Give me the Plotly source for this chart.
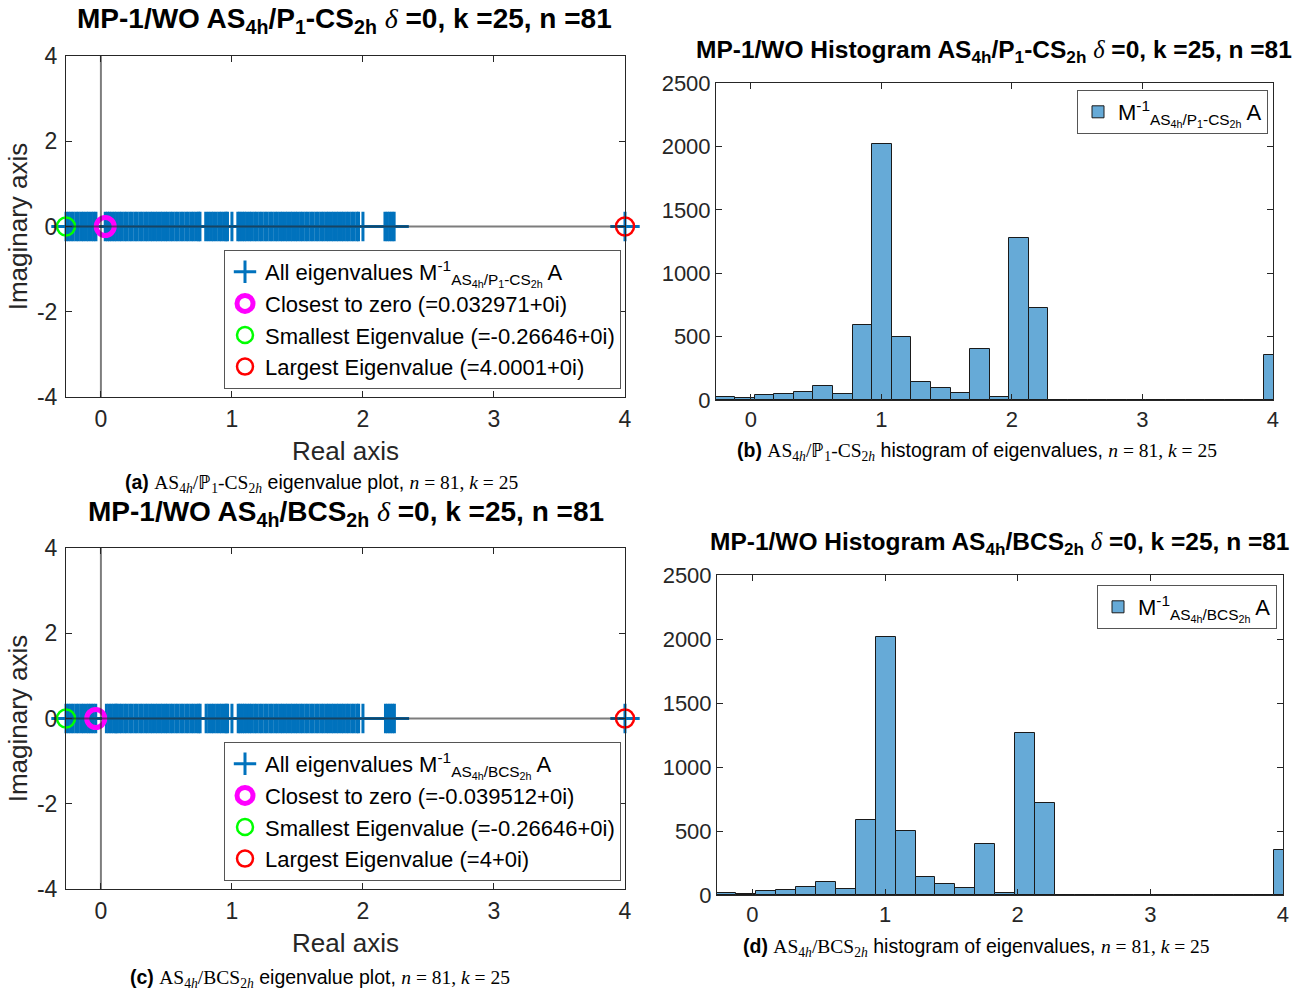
import plotly.graph_objects as go

W, H = 1306, 991

# ------------------------------------------------------------------ data
# (a) AS4h/P1-CS2h : real parts of the eigenvalues of M^-1 A (imag parts are 0)
eig_a_real = [
    -0.26646, -0.248, -0.229, -0.211, -0.190, -0.172, -0.151, -0.133, -0.112,
    -0.094, -0.073, -0.055, -0.038, 0.032971, 0.050, 0.066, 0.084, 0.103,
    0.121, 0.142, 0.160, 0.181, 0.199, 0.220, 0.238, 0.259, 0.277, 0.298,
    0.316, 0.337, 0.355, 0.376, 0.394, 0.415, 0.433, 0.454, 0.472, 0.493,
    0.511, 0.532, 0.550, 0.571, 0.589, 0.610, 0.628, 0.649, 0.667, 0.688,
    0.706, 0.727, 0.745, 0.756,
    0.800, 0.821, 0.842, 0.860, 0.881, 0.902, 0.920, 0.941, 0.955, 0.966,
    1.0,
    1.045, 1.060, 1.078, 1.095, 1.113, 1.134, 1.152, 1.173, 1.191, 1.212,
    1.230, 1.251, 1.269, 1.290, 1.308, 1.329, 1.347, 1.368, 1.386, 1.407,
    1.425, 1.446, 1.464, 1.485, 1.503, 1.524, 1.542, 1.563, 1.581, 1.602,
    1.620, 1.641, 1.659, 1.680, 1.698, 1.719, 1.737, 1.758, 1.776, 1.797,
    1.815, 1.836, 1.854, 1.875, 1.893, 1.914, 1.932, 1.953, 1.966,
    2.0,
    2.168, 2.186, 2.204, 2.222, 2.238,
    4.0001,
]
eig_a_imag = [0.0] * len(eig_a_real)

# (c) AS4h/BCS2h
eig_c_real = [
    -0.26646, -0.248, -0.229, -0.211, -0.190, -0.172, -0.151, -0.133, -0.112,
    -0.094, -0.076, -0.058, -0.039512, 0.042, 0.061, 0.079, 0.097, 0.115,
    0.121, 0.142, 0.160, 0.181, 0.199, 0.220, 0.238, 0.259, 0.277, 0.298,
    0.316, 0.337, 0.355, 0.376, 0.394, 0.415, 0.433, 0.454, 0.472, 0.493,
    0.511, 0.532, 0.550, 0.571, 0.589, 0.610, 0.628, 0.649, 0.667, 0.688,
    0.706, 0.727, 0.745, 0.757,
    0.803, 0.823, 0.844, 0.862, 0.883, 0.903, 0.921, 0.942, 0.956, 0.967,
    1.0,
    1.048, 1.062, 1.080, 1.097, 1.115, 1.134, 1.152, 1.173, 1.191, 1.212,
    1.230, 1.251, 1.269, 1.290, 1.308, 1.329, 1.347, 1.368, 1.386, 1.407,
    1.425, 1.446, 1.464, 1.485, 1.503, 1.524, 1.542, 1.563, 1.581, 1.602,
    1.620, 1.641, 1.659, 1.680, 1.698, 1.719, 1.737, 1.758, 1.776, 1.797,
    1.815, 1.836, 1.854, 1.875, 1.893, 1.914, 1.932, 1.953, 1.967,
    2.0,
    2.172, 2.190, 2.207, 2.224, 2.240,
    4.0,
]
eig_c_imag = [0.0] * len(eig_c_real)

closest_a, smallest_a, largest_a = 0.032971, -0.26646, 4.0001
closest_c, smallest_c, largest_c = -0.039512, -0.26646, 4.0

# histograms (bin width 0.15 starting at -0.27)
hist_bin_start = -0.27
hist_bin_width = 0.15
hist_counts_b = [25, 13, 37, 45, 63, 110, 47, 592, 2020, 500, 142, 97, 55, 403,
                 24, 1275, 722, 0, 0, 0, 0, 0, 0, 0, 0, 0, 0, 0, 357]
hist_counts_d = [16, 10, 31, 39, 62, 101, 47, 588, 2015, 497, 140, 86, 52, 396,
                 16, 1268, 720, 0, 0, 0, 0, 0, 0, 0, 0, 0, 0, 0, 352]

eig_xticks = [0, 1, 2, 3, 4]
eig_yticks = [-4, -2, 0, 2, 4]
eig_yticktext = ["-4", "-2", "0", "2", "4"]
hist_yticks = [0, 500, 1000, 1500, 2000, 2500]

# ------------------------------------------------------------------ styles
SANS = "Liberation Sans"
SERIF = "Liberation Serif"
AX = "#262626"
BLUE = "#0072BD"
HISTC = "#66AAD7"


def px(x):
    return x / W


def py(y):
    return 1 - y / H


delta = f'<span style="font-family:{SERIF};font-weight:normal"><i>δ</i></span>'
op_a = "AS<sub>4h</sub>/P<sub>1</sub>-CS<sub>2h</sub>"
op_c = "AS<sub>4h</sub>/BCS<sub>2h</sub>"

fig = go.Figure()


def eig_panel(xa, ya, leg, re, im, closest, smallest, largest, op):
    fig.add_trace(go.Scatter(
        x=re, y=im, mode="markers", xaxis=xa, yaxis=ya, legend=leg,
        name=f"All eigenvalues M<sup>-1</sup><sub>{op}</sub> A",
        marker=dict(symbol="cross-thin", size=21, color=BLUE,
                    line=dict(color=BLUE, width=3)),
        cliponaxis=False))
    fig.add_trace(go.Scatter(
        x=[closest], y=[0], mode="markers", xaxis=xa, yaxis=ya, legend=leg,
        name=f"Closest to zero (={closest:g}+0i)",
        marker=dict(symbol="circle-open", size=18, color="#FF00FF",
                    line=dict(color="#FF00FF", width=5)),
        cliponaxis=False))
    fig.add_trace(go.Scatter(
        x=[smallest], y=[0], mode="markers", xaxis=xa, yaxis=ya, legend=leg,
        name=f"Smallest Eigenvalue (={smallest:g}+0i)",
        marker=dict(symbol="circle-open", size=18, color="#00FF00",
                    line=dict(color="#00FF00", width=2.5)),
        cliponaxis=False))
    fig.add_trace(go.Scatter(
        x=[largest], y=[0], mode="markers", xaxis=xa, yaxis=ya, legend=leg,
        name=f"Largest Eigenvalue (={largest:g}+0i)",
        marker=dict(symbol="circle-open", size=18, color="#FF0000",
                    line=dict(color="#FF0000", width=2.5)),
        cliponaxis=False))


def hist_panel(xa, ya, leg, counts, op):
    centers = [hist_bin_start + hist_bin_width * (i + 0.5) for i in range(len(counts))]
    fig.add_trace(go.Bar(
        x=centers, y=counts, width=hist_bin_width, xaxis=xa, yaxis=ya, legend=leg,
        name=f"M<sup>-1</sup><sub>{op}</sub> A",
        marker=dict(color=HISTC, line=dict(color="#1a1a1a", width=1))))


eig_panel("x", "y", "legend", eig_a_real, eig_a_imag, closest_a, smallest_a, largest_a, op_a)
hist_panel("x2", "y2", "legend2", hist_counts_b, op_a)
eig_panel("x3", "y3", "legend3", eig_c_real, eig_c_imag, closest_c, smallest_c, largest_c, op_c)
hist_panel("x4", "y4", "legend4", hist_counts_d, op_c)

xr = [smallest_a, largest_a]


def xaxis(dom, size, standoff, title=None):
    d = dict(domain=[px(dom[0]), px(dom[1])], range=xr, tickvals=eig_xticks,
             ticks="inside", ticklen=6, tickcolor=AX, mirror="ticks",
             showline=True, linecolor=AX, linewidth=1, showgrid=False,
             zeroline=False, ticklabelstandoff=standoff, automargin=False,
             tickfont=dict(family=SANS, size=size, color=AX))
    if title:
        d["title"] = dict(text=title, standoff=11, font=dict(family=SANS, size=26, color=AX))
    return d


def yaxis(dom, rng, tv, size, standoff, title=None, tt=None):
    d = dict(domain=[py(dom[1]), py(dom[0])], range=rng, tickvals=tv,
             ticks="inside", ticklen=6, tickcolor=AX, mirror="ticks",
             showline=True, linecolor=AX, linewidth=1, showgrid=False,
             zeroline=False, ticklabelstandoff=standoff, automargin=False,
             tickfont=dict(family=SANS, size=size, color=AX))
    if tt:
        d["ticktext"] = tt
    if title:
        d["title"] = dict(text=title, standoff=1, font=dict(family=SANS, size=26, color=AX))
    return d


def legend(x, y, xanchor, size):
    return dict(x=px(x), y=py(y), xanchor=xanchor, yanchor="top", bgcolor="white",
                bordercolor="#555", borderwidth=1, itemwidth=30, tracegroupgap=0,
                font=dict(family=SANS, size=size, color="black"))


fig.update_layout(
    width=W, height=H,
    margin=dict(l=0, r=0, t=0, b=0, pad=0, autoexpand=False),
    paper_bgcolor="white", plot_bgcolor="white", showlegend=True,
    xaxis=dict(xaxis((66, 625), 23, 1, "Real axis"), anchor="y"),
    yaxis=dict(yaxis((56, 397), [-4, 4], eig_yticks, 23, 3, "Imaginary axis", eig_yticktext), anchor="x"),
    xaxis2=dict(xaxis((716, 1273), 22, 0), anchor="y2"),
    yaxis2=dict(yaxis((83, 400), [0, 2500], hist_yticks, 22, 0), anchor="x2"),
    xaxis3=dict(xaxis((66, 625), 23, 1, "Real axis"), anchor="y3"),
    yaxis3=dict(yaxis((548, 889), [-4, 4], eig_yticks, 23, 3, "Imaginary axis", eig_yticktext), anchor="x3"),
    xaxis4=dict(xaxis((717, 1283), 22, 0), anchor="y4"),
    yaxis4=dict(yaxis((575, 895), [0, 2500], hist_yticks, 22, 0), anchor="x4"),
    legend=legend(224, 250, "left", 22),
    legend2=legend(1268, 90, "right", 22),
    legend3=legend(224, 742, "left", 22),
    legend4=legend(1277, 585, "right", 22),
    bargap=0,
)

# reference lines (xline(0) / yline(0))
LINEC = "rgba(38,38,38,0.6)"
for xa, ya in (("x", "y"), ("x3", "y3")):
    fig.add_shape(type="line", xref=xa, yref=ya, x0=0, x1=0, y0=-4, y1=4,
                  line=dict(color=LINEC, width=2))
    fig.add_shape(type="line", xref=xa, yref=ya, x0=xr[0], x1=xr[1], y0=0, y1=0,
                  line=dict(color=LINEC, width=2))

# titles
params = f" {delta} =0, k =25, n =81"
titles = [
    (344, 20, f"MP-1/WO {op_a}{params}", 28),
    (994, 52, f"MP-1/WO Histogram {op_a}{params}", 24.5),
    (346, 513, f"MP-1/WO {op_c}{params}", 28),
    (1000, 543, f"MP-1/WO Histogram {op_c}{params}", 24.5),
]
for x, y, t, s in titles:
    fig.add_annotation(x=px(x), y=py(y), xref="paper", yref="paper", text=t,
                       showarrow=False, xanchor="center", yanchor="middle",
                       font=dict(family=SANS, size=s, color="black", weight="bold"))

# captions
def m(t):
    return f'<span style="font-family:{SERIF}">{t}</span>'

cap_a_op = m("AS<sub>4<i>h</i></sub>/ℙ<sub>1</sub>-CS<sub>2<i>h</i></sub>")
cap_c_op = m("AS<sub>4<i>h</i></sub>/BCS<sub>2<i>h</i></sub>")
nk = m("<i>n</i> = 81, <i>k</i> = 25")
captions = [
    (321, 483, f"<b>(a)</b> {cap_a_op} eigenvalue plot, {nk}"),
    (977, 451, f"<b>(b)</b> {cap_a_op} histogram of eigenvalues, {nk}"),
    (320, 978, f"<b>(c)</b> {cap_c_op} eigenvalue plot, {nk}"),
    (976, 947, f"<b>(d)</b> {cap_c_op} histogram of eigenvalues, {nk}"),
]
for x, y, t in captions:
    fig.add_annotation(x=px(x), y=py(y), xref="paper", yref="paper", text=t,
                       showarrow=False, xanchor="center", yanchor="middle",
                       font=dict(family=SANS, size=19.5, color="black"))

fig.write_html("out.html")
